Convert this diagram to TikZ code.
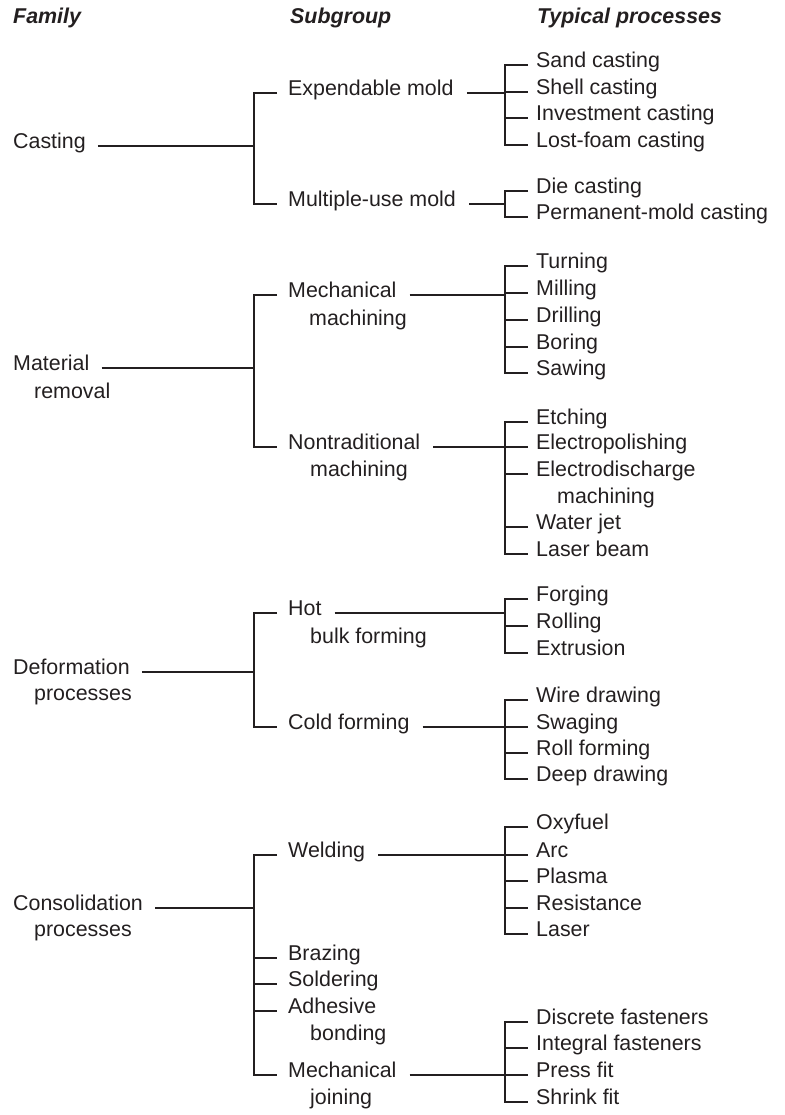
\documentclass[tikz,border=0pt]{standalone}
\usepackage{fontspec}
\setmainfont{Liberation Sans}
\definecolor{ink}{HTML}{231F20}
\begin{document}
\begin{tikzpicture}[x=1pt,y=-1pt,
  txt/.style={anchor=mid west, inner xsep=0pt, inner ysep=1pt, text=ink,
              font=\fontsize{21.4}{26}\selectfont},
  head/.style={txt, font=\fontsize{21.4}{26}\selectfont\bfseries\itshape},
  conn/.style={draw=ink, line width=2.2pt},
]
\useasboundingbox (0,0) rectangle (784,1115);

% column guides: bars and tick ends
\coordinate (sb) at (254,0);
\coordinate (st) at (277,0);
\coordinate (pb) at (505,0);
\coordinate (pt) at (528,0);

% headings
\node[head] (hfam) at (13,21)  {Family};
\node[head] (hsub) at (290,21) {Subgroup};
\node[head] (hpro) at (537,21) {Typical processes};

% families
\node[txt] (cast) at (13,146) {Casting};
\node[txt] (mat)  at (13,368) {Material};
\node[txt] (matb) at (34,396) {removal};
\node[txt] (def)  at (13,672) {Deformation};
\node[txt] (defb) at (34,698) {processes};
\node[txt] (con)  at (13,908) {Consolidation};
\node[txt] (conb) at (34,934) {processes};

% subgroups
\node[txt] (exp)   at (288,93)   {Expendable mold};
\node[txt] (mul)   at (288,204)  {Multiple-use mold};
\node[txt] (mech)  at (288,295)  {Mechanical};
\node[txt] (mechb) at (309,323)  {machining};
\node[txt] (nont)  at (288,447)  {Nontraditional};
\node[txt] (nontb) at (310,474)  {machining};
\node[txt] (hot)   at (288,613)  {Hot};
\node[txt] (hotb)  at (310,641)  {bulk forming};
\node[txt] (cold)  at (288,727)  {Cold forming};
\node[txt] (weld)  at (288,855)  {Welding};
\node[txt] (braz)  at (288,958)  {Brazing};
\node[txt] (sold)  at (288,984)  {Soldering};
\node[txt] (adh)   at (288,1011) {Adhesive};
\node[txt] (adhb)  at (310,1038) {bonding};
\node[txt] (mj)    at (288,1075) {Mechanical};
\node[txt] (mjb)   at (310,1102) {joining};

% typical processes
\node[txt] (sand)  at (536,65)  {Sand casting};
\node[txt] (shell) at (536,92)  {Shell casting};
\node[txt] (inv)   at (536,118) {Investment casting};
\node[txt] (lost)  at (536,145) {Lost-foam casting};
\node[txt] (die)   at (536,191) {Die casting};
\node[txt] (perm)  at (536,217) {Permanent-mold casting};

\node[txt] (turn)  at (536,266) {Turning};
\node[txt] (mill)  at (536,293) {Milling};
\node[txt] (drill) at (536,320) {Drilling};
\node[txt] (bore)  at (536,347) {Boring};
\node[txt] (saw)   at (536,373) {Sawing};

\node[txt] (etch)  at (536,422) {Etching};
\node[txt] (epol)  at (536,447) {Electropolishing};
\node[txt] (edm)   at (536,474) {Electrodischarge};
\node[txt] (edmb)  at (557,501) {machining};
\node[txt] (wjet)  at (536,527) {Water jet};
\node[txt] (lbeam) at (536,554) {Laser beam};

\node[txt] (forg)  at (536,599) {Forging};
\node[txt] (roll)  at (536,626) {Rolling};
\node[txt] (extr)  at (536,653) {Extrusion};

\node[txt] (wire)  at (536,700) {Wire drawing};
\node[txt] (swag)  at (536,727) {Swaging};
\node[txt] (rollf) at (536,753) {Roll forming};
\node[txt] (deep)  at (536,779) {Deep drawing};

\node[txt] (oxy)   at (536,827) {Oxyfuel};
\node[txt] (arc)   at (536,855) {Arc};
\node[txt] (plas)  at (536,881) {Plasma};
\node[txt] (res)   at (536,908) {Resistance};
\node[txt] (las)   at (536,934) {Laser};

\node[txt] (disc)  at (536,1022) {Discrete fasteners};
\node[txt] (integ) at (536,1048) {Integral fasteners};
\node[txt] (press) at (536,1075) {Press fit};
\node[txt] (shrk)  at (536,1102) {Shrink fit};

% ---- family -> subgroup brackets
\draw[conn] ([xshift=12pt]cast.mid east) -- (cast.mid east -| sb);
\draw[conn] (exp.mid west -| st) -| (mul.mid west -| sb) -- (mul.mid west -| st);

\draw[conn] ([xshift=12pt]mat.mid east) -- (mat.mid east -| sb);
\draw[conn] (mech.mid west -| st) -| (nont.mid west -| sb) -- (nont.mid west -| st);

\draw[conn] ([xshift=12pt]def.mid east) -- (def.mid east -| sb);
\draw[conn] (hot.mid west -| st) -| (cold.mid west -| sb) -- (cold.mid west -| st);

\draw[conn] ([xshift=12pt]con.mid east) -- (con.mid east -| sb);
\draw[conn] (weld.mid west -| st) -| (mj.mid west -| sb) -- (mj.mid west -| st);
\foreach \n in {braz,sold,adh}
  \draw[conn] (\n.mid west -| sb) -- (\n.mid west -| st);

% ---- subgroup -> process brackets
\draw[conn] ([xshift=13pt]exp.mid east) -- (exp.mid east -| pb);
\draw[conn] (sand.mid west -| pt) -| (lost.mid west -| pb) -- (lost.mid west -| pt);
\foreach \n in {shell,inv}
  \draw[conn] (\n.mid west -| pb) -- (\n.mid west -| pt);

\draw[conn] ([xshift=13pt]mul.mid east) -- (mul.mid east -| pb);
\draw[conn] (die.mid west -| pt) -| (perm.mid west -| pb) -- (perm.mid west -| pt);

\draw[conn] ([xshift=13pt]mech.mid east) -- (mech.mid east -| pb);
\draw[conn] (turn.mid west -| pt) -| (saw.mid west -| pb) -- (saw.mid west -| pt);
\foreach \n in {mill,drill,bore}
  \draw[conn] (\n.mid west -| pb) -- (\n.mid west -| pt);

\draw[conn] ([xshift=13pt]nont.mid east) -- (nont.mid east -| pb);
\draw[conn] (etch.mid west -| pt) -| (lbeam.mid west -| pb) -- (lbeam.mid west -| pt);
\foreach \n in {epol,edm,wjet}
  \draw[conn] (\n.mid west -| pb) -- (\n.mid west -| pt);

\draw[conn] ([xshift=13pt]hot.mid east) -- (hot.mid east -| pb);
\draw[conn] (forg.mid west -| pt) -| (extr.mid west -| pb) -- (extr.mid west -| pt);
\draw[conn] (roll.mid west -| pb) -- (roll.mid west -| pt);

\draw[conn] ([xshift=13pt]cold.mid east) -- (cold.mid east -| pb);
\draw[conn] (wire.mid west -| pt) -| (deep.mid west -| pb) -- (deep.mid west -| pt);
\foreach \n in {swag,rollf}
  \draw[conn] (\n.mid west -| pb) -- (\n.mid west -| pt);

\draw[conn] ([xshift=13pt]weld.mid east) -- (weld.mid east -| pb);
\draw[conn] (oxy.mid west -| pt) -| (las.mid west -| pb) -- (las.mid west -| pt);
\foreach \n in {arc,plas,res}
  \draw[conn] (\n.mid west -| pb) -- (\n.mid west -| pt);

\draw[conn] ([xshift=13pt]mj.mid east) -- (mj.mid east -| pb);
\draw[conn] (disc.mid west -| pt) -| (shrk.mid west -| pb) -- (shrk.mid west -| pt);
\foreach \n in {integ,press}
  \draw[conn] (\n.mid west -| pb) -- (\n.mid west -| pt);
\end{tikzpicture}
\end{document}
